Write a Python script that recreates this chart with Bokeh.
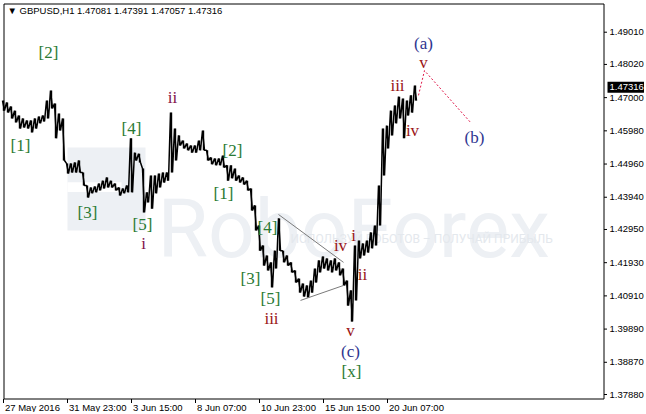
from bokeh.plotting import figure
from bokeh.models import Range1d, ColumnDataSource
from bokeh.embed import file_html
from bokeh.resources import INLINE
from bokeh.core.properties import value

# ---------------- data ----------------
bars = list(range(0, 413, 4))
highs = [1.4691, 1.4685, 1.4673, 1.4660, 1.4645, 1.4636, 1.4630, 1.4630, 1.4636, 1.4642,
         1.4645, 1.4691, 1.4722, 1.4682, 1.4651, 1.4636, 1.4498, 1.4498, 1.4501, 1.4507,
         1.4470, 1.4430, 1.4424, 1.4427, 1.4436, 1.4445, 1.4455, 1.4445, 1.4436, 1.4424,
         1.4421, 1.4430, 1.4575, 1.4531, 1.4528, 1.4482, 1.4409, 1.4461, 1.4461, 1.4467,
         1.4470, 1.4470, 1.4654, 1.4605, 1.4584, 1.4568, 1.4559, 1.4553, 1.4553, 1.4568,
         1.4599, 1.4538, 1.4516, 1.4513, 1.4513, 1.4522, 1.4492, 1.4492, 1.4482, 1.4461,
         1.4455, 1.4445, 1.4421, 1.4369, 1.4307, 1.4246, 1.4215, 1.4194, 1.4230, 1.4329,
         1.4230, 1.4215, 1.4194, 1.4169, 1.4144, 1.4129, 1.4123, 1.4138, 1.4175, 1.4200,
         1.4212, 1.4206, 1.4200, 1.4206, 1.4194, 1.4175, 1.4138, 1.4108, 1.4246, 1.4261,
         1.4252, 1.4261, 1.4286, 1.4307, 1.4430, 1.4605, 1.4614, 1.4660, 1.4676, 1.4703,
         1.4697, 1.4691, 1.4707, 1.4737]
lows = [1.4660, 1.4654, 1.4636, 1.4624, 1.4605, 1.4608, 1.4605, 1.4593, 1.4605, 1.4621,
        1.4627, 1.4636, 1.4667, 1.4575, 1.4599, 1.4507, 1.4467, 1.4470, 1.4470, 1.4470,
        1.4430, 1.4393, 1.4406, 1.4409, 1.4415, 1.4421, 1.4424, 1.4424, 1.4415, 1.4399,
        1.4406, 1.4409, 1.4409, 1.4507, 1.4501, 1.4347, 1.4378, 1.4359, 1.4406, 1.4424,
        1.4439, 1.4445, 1.4470, 1.4507, 1.4553, 1.4544, 1.4538, 1.4531, 1.4531, 1.4538,
        1.4538, 1.4507, 1.4495, 1.4492, 1.4492, 1.4485, 1.4445, 1.4452, 1.4445, 1.4439,
        1.4433, 1.4415, 1.4353, 1.4292, 1.4230, 1.4184, 1.4169, 1.4117, 1.4175, 1.4230,
        1.4194, 1.4184, 1.4163, 1.4132, 1.4101, 1.4089, 1.4086, 1.4101, 1.4132, 1.4163,
        1.4175, 1.4169, 1.4163, 1.4169, 1.4154, 1.4123, 1.4061, 1.4012, 1.4077, 1.4206,
        1.4215, 1.4224, 1.4237, 1.4246, 1.4307, 1.4461, 1.4544, 1.4584, 1.4621, 1.4636,
        1.4575, 1.4645, 1.4654, 1.4691]

tick_bars = [0, 64, 128, 192, 256, 320, 384]
tick_labels = ["27 May 2016", "31 May 23:00", "3 Jun 15:00", "8 Jun 07:00",
               "10 Jun 23:00", "15 Jun 15:00", "20 Jun 07:00"]
price_ticks = [1.3788, 1.3887, 1.3989, 1.4091, 1.4193, 1.4295,
               1.4394, 1.4496, 1.4598, 1.4700, 1.4802, 1.4901]
price_labels = ["1.37880", "1.38870", "1.39890", "1.40910", "1.41930", "1.42950",
                "1.43940", "1.44960", "1.45980", "1.47000", "1.48020", "1.49010"]
last_close = 1.47316
header = "\u25BC GBPUSD,H1  1.47081 1.47391 1.47057 1.47316"

GREEN = "#2a7a34"
RED = "#9a1414"
PURPLE = "#82104a"
BLUE = "#2f3590"
wave_text = ["[1]", "[2]", "[3]", "[4]", "[5]", "i", "ii",
             "[1]", "[2]", "[3]", "[4]", "[5]", "iii", "iv", "v",
             "i", "ii", "(c)", "[x]", "iii", "iv", "v", "(a)", "(b)"]
wave_bar = [17, 45, 84, 128, 139, 140, 169,
            220, 229, 247, 264, 267, 268, 337, 347,
            350, 359, 347, 348, 394, 409, 420, 420, 471]
wave_price = [1.4553, 1.4839, 1.4347, 1.4605, 1.4310, 1.4252, 1.4700,
              1.4406, 1.4538, 1.4144, 1.4301, 1.4083, 1.4022, 1.4246, 1.3985,
              1.4277, 1.4157, 1.3920, 1.3859, 1.4737, 1.4599, 1.4808, 1.4866, 1.4578]
wave_color = [GREEN, GREEN, GREEN, GREEN, GREEN, PURPLE, PURPLE,
              GREEN, GREEN, GREEN, GREEN, GREEN, RED, RED, RED,
              RED, RED, BLUE, GREEN, RED, RED, RED, BLUE, BLUE]

tri_upper_bars = [275, 340]
tri_upper_prices = [1.4341, 1.4194]
tri_lower_bars = [297, 340]
tri_lower_prices = [1.4077, 1.4123]

forecast_bars = [415, 421, 467]
forecast_prices = [1.4707, 1.4783, 1.4624]

# ---------------- layout (MetaTrader-style window) ----------------
W, H = 644, 412
X0, X1 = -3.0, 641.0
Y1 = 1.49984
PY = 0.0003072              # price per pixel
Y0 = Y1 - H * PY
BX = (X1 - X0) / W          # bars per pixel
LEFT = X0 + 3.5 * BX
RIGHT = X0 + 603.5 * BX
TOP = Y1 - 3.5 * PY
BOTTOM = Y1 - 398.5 * PY

p = figure(width=W, height=H, output_backend="svg", toolbar_location=None,
           x_range=Range1d(X0, X1), y_range=Range1d(Y0, Y1),
           x_axis_type=None, y_axis_type=None,
           min_border_left=0, min_border_right=0, min_border_top=0, min_border_bottom=0)
p.background_fill_color = "white"
p.border_fill_color = "white"
p.outline_line_color = None
p.grid.visible = False

# watermark
WM = "#edf0f4"
p.quad(left=[64], right=[142], top=[1.4547], bottom=[1.4292], fill_color=WM, line_color=None)
p.quad(left=[64], right=[118], top=[1.4440], bottom=[1.4410], fill_color="white", line_color=None)
p.text(x=[154], y=[1.4295], text=["RoboForex"], text_font=value("Roboto"),
       text_font_size="82px", text_color=WM, text_baseline="alphabetic", text_align="left")
p.text(x=[287], y=[1.4267], text=["ИСПОЛЬЗУЙ РОБОТОВ – ПОЛУЧАЙ ПРИБЫЛЬ"], text_font=value("Roboto"),
       text_font_size="12px", text_color="#e4e8ed", text_baseline="middle", text_align="left")

# price bars drawn as a dense high/low zigzag
zx, zy = [], []
for b, h, l in zip(bars, highs, lows):
    zx += [b - 1, b + 1]
    zy += [h, l]
p.line(zx, zy, line_color="black", line_width=1.5)
p.segment(x0=bars, y0=lows, x1=bars, y1=highs, line_color="black", line_width=1.4)

# triangle and forecast
p.line(tri_upper_bars, tri_upper_prices, line_color="#7a7a7a", line_width=1)
p.line(tri_lower_bars, tri_lower_prices, line_color="#7a7a7a", line_width=1)
p.line(forecast_bars, forecast_prices, line_color="#e0184a", line_width=1, line_dash="2 2")

# wave labels
src = ColumnDataSource(dict(x=wave_bar, y=wave_price, t=wave_text, c=wave_color))
p.text(x="x", y="y", text="t", text_color="c", source=src, text_font=value("Liberation Serif"),
       text_font_size="17px", text_align="center", text_baseline="middle")

# chart border
p.line(x=[LEFT, RIGHT, RIGHT, LEFT, LEFT], y=[TOP, TOP, BOTTOM, BOTTOM, TOP],
       line_color="black", line_width=1)

# price scale (right)
p.segment(x0=[RIGHT] * len(price_ticks), x1=[RIGHT + 3 * BX] * len(price_ticks),
          y0=price_ticks, y1=price_ticks, line_color="black", line_width=1)
p.text(x=[RIGHT + 5.5 * BX] * len(price_ticks), y=price_ticks, text=price_labels,
       text_font=value("Liberation Sans"), text_font_size="9.5px", text_color="black",
       text_align="left", text_baseline="middle")

# current price box
p.quad(left=[RIGHT + 3.5 * BX], right=[RIGHT + 40 * BX], top=[last_close + 5.5 * PY],
       bottom=[last_close - 5.5 * PY], fill_color="black", line_color=None)
p.text(x=[RIGHT + 5.5 * BX], y=[last_close], text=[f"{last_close:.5f}"],
       text_font=value("Liberation Sans"), text_font_size="9.5px", text_color="white",
       text_align="left", text_baseline="middle")

# time scale (bottom)
p.segment(x0=tick_bars, x1=tick_bars, y0=[BOTTOM] * len(tick_bars),
          y1=[BOTTOM - 4 * PY] * len(tick_bars), line_color="black", line_width=1)
p.text(x=[b + 1.5 * BX for b in tick_bars], y=[BOTTOM - 8.5 * PY] * len(tick_bars), text=tick_labels,
       text_font=value("Liberation Sans"), text_font_size="9.5px", text_color="black",
       text_align="left", text_baseline="middle")

# header
p.text(x=[4], y=[Y1 - 10 * PY], text=[header], text_font=value("Liberation Sans"),
       text_font_size="9.5px", text_color="black", text_align="left", text_baseline="middle")

open("out.html", "w").write(file_html(p, INLINE))
